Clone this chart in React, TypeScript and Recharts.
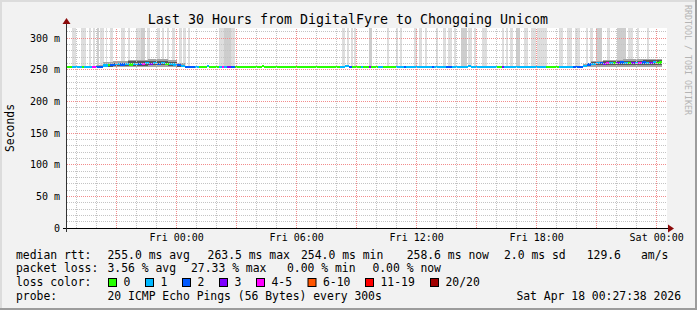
import { ComposedChart, XAxis, YAxis, ReferenceArea, ReferenceLine } from "recharts";

// x is hours relative to Fri 00:00, y is milliseconds
const X_MIN = -5.485;
const X_MAX = 24.515;
const Y_MAX = 315.8;

const timeTicks = [0, 6, 12, 18, 24];
const timeLabels = ["Fri 00:00", "Fri 06:00", "Fri 12:00", "Fri 18:00", "Sat 00:00"];
const rttTicks = [0, 50, 100, 150, 200, 250, 300];

const lossColors = ["#26ff00", "#00b8ff", "#0059ff", "#7e00ff", "#ff00ff", "#ff5500", "#ff0000", "#a10000"];
const lossLabels = ["0", "1", "2", "3", "4-5", "6-10", "11-19", "20/20"];
const barShades = ["#dedede", "#cdcdcd", "#bababa"];
const smokeShades = ["#a4a4a4", "#585858"];

// tall grey columns: [from, to, shade]
const lossBars: [number, number, number][] = [
  [-5.23, -5.03, 0], [-4.78, -4.53, 0], [-4.38, -4.28, 0], [-4.18, -4.08, 0],
  [-3.98, -3.88, 1], [-3.83, -3.63, 0], [-3.53, -3.48, 0], [-3.33, -3.18, 0],
  [-2.78, -2.58, 0], [-2.43, -2.33, 0], [-2.03, -1.78, 0], [-1.78, -1.58, 1],
  [-1.48, -1.33, 0], [-0.98, -0.83, 0], [-0.73, -0.63, 0], [-0.48, -0.38, 0],
  [-0.23, -0.08, 0], [0.12, 0.27, 0], [0.32, 0.47, 0], [0.57, 0.67, 0],
  [2.12, 2.37, 0], [2.37, 2.72, 1], [2.72, 2.92, 0],
  [8.27, 8.42, 0], [8.52, 8.62, 0], [8.72, 8.82, 0], [8.87, 8.97, 0],
  [9.6, 9.75, 1], [10.52, 10.62, 0], [10.97, 11.07, 0], [11.17, 11.27, 0],
  [11.87, 12.02, 0], [12.12, 12.27, 0], [12.42, 12.52, 0], [12.97, 13.07, 0],
  [13.32, 13.47, 0], [13.57, 13.77, 0], [13.87, 13.97, 0], [14.22, 14.52, 1],
  [14.57, 14.77, 0], [14.87, 14.97, 0], [15.27, 15.52, 0], [16.27, 16.37, 0],
  [16.47, 16.57, 0], [16.67, 16.82, 0], [16.97, 17.17, 1], [17.37, 17.57, 0],
  [17.72, 17.97, 0], [18.02, 18.52, 0], [19.12, 19.32, 0], [19.52, 19.77, 0],
  [19.92, 20.17, 0], [20.47, 20.57, 0], [20.67, 20.82, 0], [20.97, 21.27, 1],
  [21.52, 21.67, 0], [22.02, 22.47, 1], [22.57, 22.82, 0], [23.02, 23.12, 0],
  [23.52, 23.62, 0],
];

// smoke: [from, to, low, high, shade]
const smokeBands: [number, number, number, number, number][] = [
  [-4.03, -3.68, 254, 258, 0], [-3.68, -3.18, 254, 262, 0], [-3.18, -2.43, 254, 264, 0],
  [-2.43, -1.43, 254, 266, 0], [-1.43, -0.43, 255, 267, 0], [-0.43, 0.02, 255, 265, 0],
  [0.02, 0.42, 254, 261, 0],
  [-3.68, -3.18, 255, 259, 1], [-3.18, -2.43, 256, 261, 1], [-2.43, -1.43, 256, 263, 1],
  [-1.43, -0.43, 257, 264, 1], [-0.43, 0.02, 256, 262, 1], [0.02, 0.42, 255, 258, 1],
  [20.32, 20.72, 254, 259, 0], [20.72, 21.32, 255, 264, 0], [21.32, 22.32, 255, 266, 0],
  [22.32, 24.27, 255, 267, 0],
  [20.72, 21.32, 257, 262, 1], [21.32, 22.32, 257, 264, 1], [22.32, 23.32, 257, 264, 1],
  [23.32, 24.27, 257, 265, 1],
];

// median rtt: [from, to, ms, loss class]
const medianRuns: [number, number, number, number][] = [
  [-5.485, -5.23, 254.5, 0], [-5.23, -4.73, 254.5, 1], [-4.73, -4.63, 254.5, 0],
  [-4.63, -4.23, 254.5, 1], [-4.23, -4.03, 254.5, 4], [-4.03, -3.68, 254.5, 2],
  [-3.68, -3.43, 256.5, 1], [-3.43, -3.33, 257, 0], [-3.33, -3.08, 257.5, 2],
  [-3.08, -2.83, 258.5, 1], [-2.83, -2.58, 258, 2], [-2.58, -2.38, 259, 1],
  [-2.38, -2.18, 258, 0], [-2.18, -1.93, 259.5, 1], [-1.93, -1.73, 259, 2],
  [-1.73, -1.58, 258.5, 4], [-1.58, -1.38, 260, 1], [-1.38, -1.18, 259, 3],
  [-1.18, -0.98, 260.5, 1], [-0.98, -0.78, 259.5, 2], [-0.78, -0.58, 260, 1],
  [-0.58, -0.38, 259, 0], [-0.38, -0.18, 259.5, 1], [-0.18, 0.02, 258, 1],
  [0.02, 0.22, 257, 2], [0.22, 0.42, 255.5, 1], [0.42, 0.92, 254.5, 2],
  [0.92, 1.12, 254.5, 1], [1.12, 1.52, 254.5, 0], [1.52, 1.62, 255.5, 1],
  [1.62, 2.12, 254.5, 0], [2.12, 2.27, 254.5, 1], [2.27, 2.37, 254.5, 4],
  [2.37, 2.52, 254.5, 1], [2.52, 2.72, 254.5, 3], [2.72, 2.92, 254.5, 2],
  [2.92, 4.25, 254.5, 0], [4.25, 4.35, 256, 0], [4.35, 8.17, 254.5, 0],
  [8.17, 8.42, 254.5, 1], [8.42, 8.62, 256, 1], [8.62, 8.77, 254.5, 2],
  [8.77, 9.22, 254.5, 0], [9.22, 9.32, 254.5, 1], [9.32, 9.62, 254.5, 0],
  [9.62, 9.72, 254.5, 3], [9.72, 10.07, 254.5, 0], [10.07, 10.32, 254.5, 1],
  [10.32, 10.97, 254.5, 0], [10.97, 11.37, 254.5, 1], [11.37, 11.47, 254.5, 2],
  [11.47, 12.77, 254.5, 1], [12.77, 12.87, 254.5, 2], [12.87, 13.47, 254.5, 1],
  [13.47, 13.77, 254.5, 2], [13.77, 14.57, 254.5, 1], [14.57, 14.72, 256, 1],
  [14.72, 16.02, 254.5, 1], [16.02, 16.27, 254.5, 0], [16.27, 16.37, 254.5, 3],
  [16.37, 18.47, 254.5, 1], [18.47, 19.12, 254.5, 0], [19.12, 19.82, 254.5, 1],
  [19.82, 20.32, 254.5, 2],
  [20.32, 20.52, 256, 1], [20.52, 20.72, 258, 2], [20.72, 20.97, 259.5, 1],
  [20.97, 21.17, 260, 1], [21.17, 21.32, 260.5, 2], [21.32, 21.47, 259.5, 3],
  [21.47, 21.62, 261, 4], [21.62, 21.82, 260, 1], [21.82, 21.97, 261, 0],
  [21.97, 22.17, 260, 3], [22.17, 22.37, 261.5, 2], [22.37, 22.57, 260.5, 1],
  [22.57, 22.72, 261, 0], [22.72, 22.92, 260, 3], [22.92, 23.07, 261, 1],
  [23.07, 23.27, 260.5, 4], [23.27, 23.47, 261.5, 2], [23.47, 23.62, 260, 1],
  [23.62, 23.82, 261, 3], [23.82, 23.97, 262, 1], [23.97, 24.12, 261, 0],
  [24.12, 24.27, 261.5, 0],
];

const rttLegend: [number, string][] = [
  [16, "median rtt:"], [107.5, "255.0 ms avg"], [207.6, "263.5 ms max"], [301, "254.0 ms min"],
  [406.7, "258.6 ms now"], [504, "2.0 ms sd"], [586.7, "129.6"], [641, "am/s"],
];
const lossLegend: [number, string][] = [
  [16, "packet loss:"], [107.5, "3.56 % avg"], [191, "27.33 % max"], [287, "0.00 % min"], [372.4, "0.00 % now"],
];
const swatchX = [108, 145, 182, 219, 256, 307.5, 365, 430];

const MONO = "'DejaVu Sans Mono', monospace";
const LEG = 11.4;

const minorY: number[] = [];
for (let v = 10; v < Y_MAX; v += 10) if (v % 50 !== 0) minorY.push(v);
const majorY = [50, 100, 150, 200, 250, 300];
const minorX: number[] = [];
for (let h = -5; h <= 24; h++) if (h % 3 !== 0) minorX.push(h);
const majorX = [-3, 0, 3, 6, 9, 12, 15, 18, 21, 24];

export default function App() {
  return (
    <div style={{ position: "absolute", left: 0, top: 0, width: 697, height: 310, background: "#f2f2f2", overflow: "hidden" }}>
      <style>{`.smk svg { shape-rendering: crispEdges; }`}</style>
      <div className="smk" style={{ position: "absolute", left: 0, top: 0 }}>
        <ComposedChart width={697} height={310} data={[]} margin={{ top: 28, right: 30, bottom: 62, left: 0 }}>
          <XAxis
            type="number"
            dataKey="h"
            domain={[X_MIN, X_MAX]}
            allowDataOverflow
            ticks={timeTicks}
            interval={0}
            tickFormatter={(v: number) => timeLabels[timeTicks.indexOf(v)]}
            axisLine={false}
            tickLine={false}
            tickSize={0}
            tickMargin={6}
            height={20}
            tick={{ fontSize: 10, fontFamily: MONO, fill: "#000" }}
          />
          <YAxis
            type="number"
            domain={[0, Y_MAX]}
            allowDataOverflow
            ticks={rttTicks}
            interval={0}
            tickFormatter={(v: number) => (v === 0 ? "0" : `${v} m`)}
            axisLine={false}
            tickLine={false}
            tickSize={0}
            tickMargin={7}
            width={67}
            tick={{ fontSize: 10, fontFamily: MONO, fill: "#000" }}
          />
          <ReferenceArea x1={X_MIN} x2={X_MAX} y1={0} y2={Y_MAX} fill="#ffffff" fillOpacity={1} stroke="none" />
          {lossBars.map(([a, b, s], i) => (
            <ReferenceArea key={`b${i}`} x1={a} x2={b} y1={256} y2={Y_MAX} fill={barShades[s]} fillOpacity={1} stroke="none" />
          ))}
          {smokeBands.map(([a, b, lo, hi, s], i) => (
            <ReferenceArea key={`s${i}`} x1={a} x2={b} y1={lo} y2={hi} fill={smokeShades[s]} fillOpacity={1} stroke="none" />
          ))}
          {medianRuns.map(([a, b, v, c], i) => (
            <ReferenceArea key={`m${i}`} x1={a} x2={b} y1={v - 1.8} y2={v + 1.8} fill={lossColors[c]} fillOpacity={1} stroke="none" />
          ))}
          {minorY.map((v) => (
            <ReferenceLine key={`gy${v}`} y={v} stroke="#c4c4c4" strokeDasharray="1 1" />
          ))}
          {minorX.map((h) => (
            <ReferenceLine key={`gx${h}`} x={h} stroke="#c4c4c4" strokeDasharray="1 1" />
          ))}
          {majorY.map((v) => (
            <ReferenceLine key={`my${v}`} y={v} stroke="#f28c8c" strokeDasharray="1 1" />
          ))}
          {majorX.map((h) => (
            <ReferenceLine key={`mx${h}`} x={h} stroke="#f28c8c" strokeDasharray="1 1" />
          ))}
        </ComposedChart>
      </div>
      <svg width={697} height={310} style={{ position: "absolute", left: 0, top: 0, pointerEvents: "none" }}>
        <rect x={0} y={0} width={697} height={2} fill="#dcdcdc" />
        <rect x={0} y={0} width={2} height={310} fill="#dcdcdc" />
        <rect x={0} y={308} width={697} height={2} fill="#9c9c9c" />
        <rect x={695} y={0} width={2} height={310} fill="#9c9c9c" />
        <line x1={63} y1={228.5} x2={669} y2={228.5} stroke="#000" strokeWidth={1} />
        <line x1={66.5} y1={232} x2={66.5} y2={23} stroke="#333" strokeWidth={1} />
        <polygon points="62.5,24 70.5,24 66.5,18" fill="#8b0a0a" />
        <polygon points="668,224.5 668,232.5 674,228.5" fill="#8b0a0a" />
        <text x={348} y={23.5} textAnchor="middle" fontFamily={MONO} fontSize={13.3} fill="#000">
          Last 30 Hours from DigitalFyre to Chongqing Unicom
        </text>
        <text x={14} y={128} textAnchor="middle" fontFamily={MONO} fontSize={LEG} fill="#000" transform="rotate(-90 14 128)">
          Seconds
        </text>
        <text x={684.5} y={5} fontFamily={MONO} fontSize={8.3} fill="#b4b4b4" transform="rotate(90 684.5 5)">
          RRDTOOL / TOBI OETIKER
        </text>
        {rttLegend.map(([x, t]) => (
          <text key={t} x={x} y={258.5} fontFamily={MONO} fontSize={LEG} fill="#000">{t}</text>
        ))}
        {lossLegend.map(([x, t]) => (
          <text key={t} x={x} y={272.2} fontFamily={MONO} fontSize={LEG} fill="#000">{t}</text>
        ))}
        <text x={16} y={285.9} fontFamily={MONO} fontSize={LEG} fill="#000">loss color:</text>
        {swatchX.map((x, i) => (
          <g key={lossLabels[i]}>
            <rect x={x + 0.5} y={278.5} width={8} height={8} fill={lossColors[i]} stroke="#000" strokeWidth={1} />
            <text x={x + 15.5} y={285.9} fontFamily={MONO} fontSize={LEG} fill="#000">{lossLabels[i]}</text>
          </g>
        ))}
        <text x={16} y={299.6} fontFamily={MONO} fontSize={LEG} fill="#000">probe:</text>
        <text x={107.5} y={299.6} fontFamily={MONO} fontSize={LEG} fill="#000">20 ICMP Echo Pings (56 Bytes) every 300s</text>
        <text x={681} y={299.6} textAnchor="end" fontFamily={MONO} fontSize={LEG} fill="#000">Sat Apr 18 00:27:38 2026</text>
      </svg>
    </div>
  );
}
